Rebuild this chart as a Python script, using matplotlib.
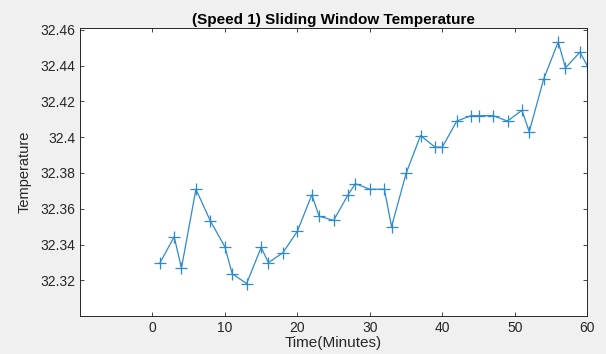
import matplotlib
matplotlib.use("Agg")
import matplotlib.pyplot as plt
from matplotlib.ticker import FuncFormatter

plt.rcParams['font.family'] = ['Liberation Sans', 'DejaVu Sans']

# sliding window temperature readings
minutes = [1, 3, 4, 6, 8, 10, 11, 13, 15, 16, 18, 20, 22, 23, 25, 27, 28, 30,
           32, 33, 35, 37, 39, 40, 42, 44, 45, 47, 49, 51, 52, 54, 56, 57, 59, 60]
temps = [32.3295, 32.3443, 32.3268, 32.3709, 32.3531, 32.3387, 32.3237, 32.3182,
         32.3384, 32.3299, 32.3354, 32.3474, 32.3678, 32.3558, 32.3535, 32.3678,
         32.3740, 32.3709, 32.3709, 32.3500, 32.3797, 32.4009, 32.3944, 32.3944,
         32.4090, 32.4120, 32.4120, 32.4120, 32.4090, 32.4150, 32.4030, 32.4326,
         32.4532, 32.4387, 32.4475, 32.4400]
xticks = [0, 10, 20, 30, 40, 50, 60]
yticks = [32.32, 32.34, 32.36, 32.38, 32.40, 32.42, 32.44, 32.46]

fig = plt.figure(figsize=(6.06, 3.54), dpi=100, facecolor='#f0f0f0')
ax = fig.add_axes([0.132, 0.107, 0.837, 0.814])
ax.plot(minutes, temps, color='#2e8ad0', lw=0.9, marker='+', ms=8, mew=0.9)

ax.set_xlim(-10, 60)
ax.set_ylim(32.30, 32.461)
ax.set_xticks(xticks)
ax.set_yticks(yticks)
ax.yaxis.set_major_formatter(FuncFormatter(lambda v, p: '%g' % round(v, 2)))
ax.tick_params(direction='in', top=True, right=True, length=3, width=0.6,
               colors='#262626', labelsize=10)
for s in ax.spines.values():
    s.set_color('#262626')
    s.set_linewidth(0.7)

ax.set_title('(Speed 1) Sliding Window Temperature', fontsize=11,
             fontweight='bold', pad=3)
ax.set_xlabel('Time(Minutes)', fontsize=11, labelpad=1, color='#262626')
ax.set_ylabel('Temperature', fontsize=10.5, labelpad=6, color='#262626')

fig.savefig('out.png', dpi=100, facecolor=fig.get_facecolor())
